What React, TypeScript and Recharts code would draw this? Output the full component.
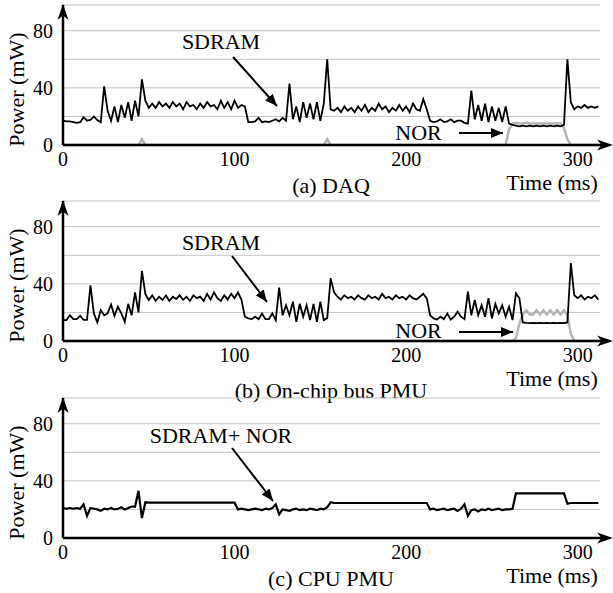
import React from 'react';
import { LineChart, Line, XAxis, YAxis, CartesianGrid } from 'recharts';

// one sample every 2 ms, t = 0 .. 312 ms
const SAMPLE_MS = 2;

// (a) DAQ
const SDRAM_DAQ = [
  17, 16.5, 16.5, 16, 15.5, 16, 19.5, 17, 17.5, 20,
  17.5, 16, 41, 24, 17, 27, 16, 28, 19, 30,
  17, 31, 20, 46, 31, 26, 29, 26, 30, 27,
  29, 26, 30, 27, 29, 25, 30, 27, 28, 25,
  29, 26, 30, 27, 28, 25, 31, 26, 30, 25,
  31, 26, 28, 27, 16, 16, 16.5, 19, 16, 16.5,
  16, 17, 18, 16.5, 19, 17, 43, 18, 27, 16,
  30, 19, 29, 18, 30, 17, 29, 60, 25, 24,
  26, 23, 27, 24, 26, 23, 27, 24, 28, 23,
  26, 24, 29, 25, 27, 23, 26, 24, 28, 24,
  27, 23, 29, 25, 24, 32, 25, 17, 16, 16.5,
  18, 16, 16.5, 18, 16, 17, 17, 15.5, 15, 38,
  18, 28, 17, 29, 16, 27, 17, 26, 16, 27,
  15, 14, 13.5, 13, 13.5, 13, 13.5, 13, 13.5, 13,
  13.5, 13, 13.5, 13, 13.5, 13, 14, 60, 30, 25,
  27, 26, 28, 26, 27, 26, 27,
];
const NOR_DAQ = [
  0, 0, 0, 0, 0, 0, 0, 0, 0, 0,
  0, 0, 0, 0, 0, 0, 0, 0, 0, 0,
  0, 0, 0, 4, 0, 0, 0, 0, 0, 0,
  0, 0, 0, 0, 0, 0, 0, 0, 0, 0,
  0, 0, 0, 0, 0, 0, 0, 0, 0, 0,
  0, 0, 0, 0, 0, 0, 0, 0, 0, 0,
  0, 0, 0, 0, 0, 0, 0, 0, 0, 0,
  0, 0, 0, 0, 0, 0, 0, 4, 0, 0,
  0, 0, 0, 0, 0, 0, 0, 0, 0, 0,
  0, 0, 0, 0, 0, 0, 0, 0, 0, 0,
  0, 0, 0, 0, 0, 0, 0, 0, 0, 0,
  0, 0, 0, 0, 0, 0, 0, 0, 0, 0,
  0, 0, 0, 0, 0, 0, 0, 0, 0, 0,
  11, 15, 15.5, 15, 15, 15.5, 15, 15, 15, 15,
  15, 15, 15, 15, 15, 15, 12, 4, 0, 0,
  0, 0, 0, 0, 0, 0, 0,
];

// (b) On-chip bus PMU
const SDRAM_BUS = [
  14.6, 14.6, 18, 15.3, 15.3, 17.6, 14.8, 14.8, 39, 19.3,
  13, 21.6, 18, 19.3, 25.6, 17.6, 24, 19.3, 13.4, 26,
  18, 34, 20, 49, 33, 28.7, 32, 28, 31, 28.7,
  31.8, 28, 31, 29.4, 32, 28.7, 31, 28, 32, 30,
  31, 28, 33, 29, 34, 30, 28, 32, 29, 33,
  30, 34, 29, 17, 15.8, 15.3, 17, 15.3, 19.3, 15.3,
  15.3, 19.3, 14.6, 37.4, 18, 25, 18, 27.5, 13.4, 26,
  17, 25, 14.6, 26, 13.4, 27.5, 14.6, 16, 44, 34,
  31, 29, 32, 30, 31, 29, 32, 30, 29, 32,
  30, 31, 29, 33, 30, 31, 29, 32, 30, 31,
  29, 32, 30, 29, 31, 33, 30, 18, 15.8, 15,
  17, 15.3, 19.3, 15, 17, 20.5, 17, 15.3, 34.6, 18,
  28.7, 18, 25, 17, 30, 15.8, 26, 19.3, 25, 17,
  24, 14.6, 33.4, 30, 13, 12.7, 12.5, 12.7, 12.5, 12.7,
  12.5, 12.7, 12.5, 12.7, 12.5, 12.7, 12.5, 13, 54.6, 32,
  30, 32, 29, 31, 30, 32, 29,
];
const NOR_BUS = [
  0, 0, 0, 0, 0, 0, 0, 0, 0, 0,
  0, 0, 0, 0, 0, 0, 0, 0, 0, 0,
  0, 0, 0, 0, 0, 0, 0, 0, 0, 0,
  0, 0, 0, 0, 0, 0, 0, 0, 0, 0,
  0, 0, 0, 0, 0, 0, 0, 0, 0, 0,
  0, 0, 0, 0, 0, 0, 0, 0, 0, 0,
  0, 0, 0, 0, 0, 0, 0, 0, 0, 0,
  0, 0, 0, 0, 0, 0, 0, 0, 0, 0,
  0, 0, 0, 0, 0, 0, 0, 0, 0, 0,
  0, 0, 0, 0, 0, 0, 0, 0, 0, 0,
  0, 0, 0, 0, 0, 0, 0, 0, 0, 0,
  0, 0, 0, 0, 0, 0, 0, 0, 0, 0,
  0, 0, 0, 0, 0, 0, 0, 0, 0, 0,
  0, 0, 2, 12, 18.5, 21.5, 18.5, 18.5, 21.5, 18.5,
  21.5, 18.5, 21.5, 18.5, 21.5, 18.5, 21.5, 18, 5, 0,
  0, 0, 0, 0, 0, 0, 0,
];

// (c) CPU PMU, SDRAM + NOR together
const SDRAM_NOR_CPU = [
  21, 20.5, 21, 20.5, 21, 20.5, 23.5, 15.5, 21, 20.5,
  20, 19, 20.5, 20, 21, 20, 20.5, 21.5, 20, 21,
  22, 22, 33, 14, 25, 24.7, 24.7, 24.7, 24.7, 24.7,
  24.7, 24.7, 24.7, 24.7, 24.7, 24.7, 24.7, 24.7, 24.7, 24.7,
  24.7, 24.7, 24.7, 24.7, 24.7, 24.7, 24.7, 24.7, 24.7, 24.7,
  24.7, 20, 20.5, 20, 19.5, 20, 20.5, 20, 19.5, 20.5,
  20, 21, 23.5, 16.5, 20, 19.5, 19, 20, 20.5, 19.5,
  20, 19.5, 20.5, 20, 19.5, 20.5, 20, 21.5, 25, 24.5,
  24.5, 24.5, 24.5, 24.5, 24.5, 24.5, 24.5, 24.5, 24.5, 24.5,
  24.5, 24.5, 24.5, 24.5, 24.5, 24.5, 24.5, 24.5, 24.5, 24.5,
  24.5, 24.5, 24.5, 24.5, 24.5, 24.5, 24.5, 20, 20.5, 19.5,
  20, 20.5, 19.5, 20, 20.5, 19, 20.5, 23.5, 15.5, 19.5,
  20, 18.5, 20, 19.5, 20.5, 19.5, 20, 20.5, 19.5, 20,
  20, 20.5, 31.3, 31.3, 31.3, 31.3, 31.3, 31.3, 31.3, 31.3,
  31.3, 31.3, 31.3, 31.3, 31.3, 31.3, 31.3, 24, 24.5, 24.5,
  24.5, 24.5, 24.5, 24.5, 24.5, 24.5, 24.5,
];

const X_TICKS = [0, 100, 200, 300];
const Y_TICKS = [0, 20, 40, 60, 80];
const Y_LABELED = [0, 40, 80];

const FONT = '"Liberation Serif", "Times New Roman", serif';
const W = 613;
const H = 196;

function toRows(sdram: number[], nor?: number[]) {
  return sdram.map((v, i) => ({ t: i * SAMPLE_MS, sdram: v, nor: nor ? nor[i] : undefined }));
}

const PANELS = [
  {
    id: 'a', top: 0, sdram: SDRAM_DAQ, nor: NOR_DAQ, width: 1.8,
    caption: '(a) DAQ', captionY: 193,
    label: 'SDRAM', labelY: 49, arrow: [233, 57, 277, 106],
    norLabelY: 140, norArrow: [459, 133, 503, 133],
  },
  {
    id: 'b', top: 196, sdram: SDRAM_BUS, nor: NOR_BUS, width: 1.8,
    caption: '(b) On-chip bus PMU', captionY: 202,
    label: 'SDRAM', labelY: 54, arrow: [232, 60, 267, 106],
    norLabelY: 142, norArrow: [459, 136, 513, 136],
  },
  {
    id: 'c', top: 393, sdram: SDRAM_NOR_CPU, nor: undefined, width: 2.2,
    caption: '(c) CPU PMU', captionY: 193,
    label: 'SDRAM+ NOR', labelY: 50, arrow: [232, 55, 273, 108],
    norLabelY: 0, norArrow: undefined as number[] | undefined,
  },
];

function Panel({ p }: { p: (typeof PANELS)[number] }) {
  const data = toRows(p.sdram, p.nor);
  const tick = { fill: '#000', fontSize: 20, fontFamily: FONT };
  const axis = { stroke: '#000', strokeWidth: 2.5 };
  const mk = `head-${p.id}`;
  return (
    <div style={{ position: 'absolute', left: 0, top: p.top, width: W, height: H }}>
      <LineChart width={W} height={H} data={data} margin={{ top: 5, right: 13, left: 0, bottom: 0 }}>
        <CartesianGrid vertical={false} stroke="#c4c4c4" strokeWidth={1} />
        <XAxis
          dataKey="t"
          type="number"
          domain={[0, 313]}
          ticks={X_TICKS}
          interval={0}
          axisLine={axis}
          tickLine={false}
          tickMargin={1}
          tick={tick}
          height={51}
        />
        <YAxis
          type="number"
          domain={[0, 98]}
          ticks={Y_TICKS}
          interval={0}
          tickFormatter={(v: number) => (Y_LABELED.includes(v) ? String(v) : '')}
          axisLine={axis}
          tickLine={false}
          tickMargin={4}
          tick={tick}
          width={63}
        />
        {p.nor && (
          <Line dataKey="nor" type="linear" stroke="#b4b4b4" strokeWidth={2.5} dot={false} isAnimationActive={false} />
        )}
        <Line dataKey="sdram" type="linear" stroke="#000" strokeWidth={p.width} dot={false} isAnimationActive={false} />
      </LineChart>
      <svg
        width={W}
        height={H + 10}
        style={{ position: 'absolute', left: 0, top: 0, pointerEvents: 'none', overflow: 'visible' }}
        fontFamily={FONT}
      >
        <defs>
          <marker id={mk} viewBox="0 0 12 10" refX="12" refY="5" markerWidth="12" markerHeight="10" markerUnits="userSpaceOnUse" orient="auto">
            <path d="M0,0 L12,5 L0,10 Z" fill="#000" />
          </marker>
        </defs>
        {/* axis arrows */}
        <line x1={600} y1={145} x2={604} y2={145} stroke="#000" strokeWidth={2.5} />
        <path d="M613,145 L597,139.5 L601.5,145 L597,150.5 Z" fill="#000" />
        <path d="M63,4 L57.5,20 L63,15.5 L68.5,20 Z" fill="#000" />
        {/* axis titles */}
        <text x={24} y={89.5} transform="rotate(-90 24 89.5)" textAnchor="middle" fontSize={22} fill="#000">Power (mW)</text>
        <text x={552} y={190} textAnchor="middle" fontSize={22} fill="#000">Time (ms)</text>
        <text x={331} y={p.captionY} textAnchor="middle" fontSize={22} fill="#000">{p.caption}</text>
        {/* annotations */}
        <text x={221} y={p.labelY} textAnchor="middle" fontSize={22} fill="#000">{p.label}</text>
        <line x1={p.arrow[0]} y1={p.arrow[1]} x2={p.arrow[2]} y2={p.arrow[3]} stroke="#000" strokeWidth={2} markerEnd={`url(#${mk})`} />
        {p.norArrow && (
          <>
            <text x={418.5} y={p.norLabelY} textAnchor="middle" fontSize={22} fill="#000">NOR</text>
            <line x1={p.norArrow[0]} y1={p.norArrow[1]} x2={p.norArrow[2]} y2={p.norArrow[3]} stroke="#000" strokeWidth={2} markerEnd={`url(#${mk})`} />
          </>
        )}
      </svg>
    </div>
  );
}

export default function App() {
  return (
    <div style={{ position: 'absolute', left: 0, top: 0, width: W, height: 593, background: '#fff' }}>
      {PANELS.map((p) => (
        <Panel key={p.id} p={p} />
      ))}
    </div>
  );
}
